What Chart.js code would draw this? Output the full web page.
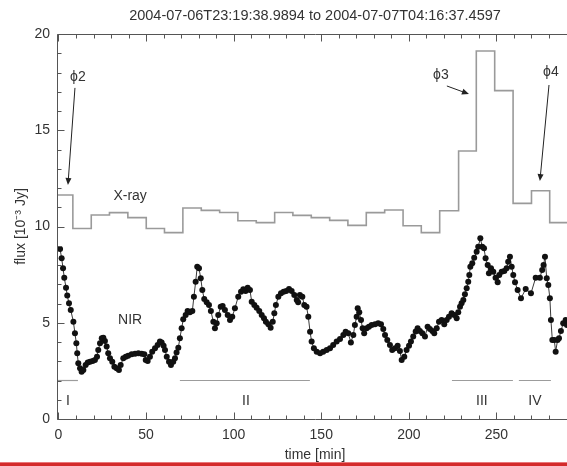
<!DOCTYPE html>
<html>
<head>
<meta charset="utf-8">
<script src="https://cdn.jsdelivr.net/npm/chart.js@4/dist/chart.umd.min.js"></script>
<style>
  html, body { margin: 0; padding: 0; background: #fff; overflow: hidden; }
  #wrap { position: relative; width: 567px; height: 466px; overflow: hidden; }
  #lc { display: block; }
  #bar { position: absolute; left: 0; top: 462px; width: 567px; height: 4px; background: #d42b2b; border-top: 1px solid #e8787a; box-sizing: border-box; }
</style>
</head>
<body>
<div id="wrap">
  <canvas id="lc" width="630" height="462"></canvas>
  <div id="bar"></div>
</div>
<script>
// NIR light curve (minutes from start, flux in mJy)
const nirTime = [
  0.9, 1.8, 2.6, 3.3, 4.3, 5.0, 6.0, 7.0, 8.5, 9.4, 10.2, 10.7, 11.3, 12.3, 13.2, 14.2,
  15.5, 16.7, 18.0, 19.5, 20.8, 22.0, 22.7, 23.7, 24.7, 25.6, 26.5, 27.5, 28.4, 29.4, 30.7,
  31.9, 33.2, 34.5, 35.5, 37.0, 38.4, 39.8, 41.8, 43.7, 45.6, 47.5, 49.0, 49.8, 50.9, 52.2,
  53.5, 55.1, 56.6, 57.9, 58.9, 60.0, 60.8, 61.8, 63.1, 64.2, 65.5, 66.5, 67.4, 68.4, 69.3,
  70.3, 71.2, 72.6, 73.7, 75.0, 76.4, 77.3, 78.3, 79.2, 80.2, 81.2, 82.1, 83.2, 84.6, 85.9,
  87.0, 88.4, 89.3, 90.3, 91.2, 92.6, 93.7, 95.0, 96.6, 97.9, 99.2, 100.7, 102.6, 104.2,
  105.5, 106.8, 108.0, 109.3, 110.3, 111.8, 113.1, 114.6, 116.0, 117.3, 118.4, 119.8, 121.1,
  122.3, 123.2, 124.1, 125.5, 127.0, 128.5, 130.0, 131.6, 133.1, 134.6, 136.0, 136.8, 137.8,
  139.2, 140.3, 141.6, 142.6, 143.6, 144.5, 145.8, 147.4, 149.3, 151.1, 153.1, 155.0, 156.8,
  158.8, 160.7, 162.6, 163.9, 165.4, 166.9, 168.3, 169.2, 170.2, 170.8, 171.7, 172.7, 173.6,
  174.5, 175.9, 177.2, 178.8, 180.7, 182.5, 184.1, 185.4, 186.4, 187.7, 189.2, 190.5, 192.1,
  193.6, 194.9, 195.9, 197.4, 198.7, 200.1, 201.2, 202.5, 203.9, 205.0, 206.3, 207.7, 209.2,
  210.7, 212.0, 213.4, 214.5, 215.9, 217.2, 218.7, 220.2, 221.6, 222.9, 224.4, 225.9, 227.3,
  228.2, 229.2, 230.1, 231.1, 232.0, 233.0, 233.9, 234.5, 235.1, 236.2, 237.3, 238.7, 239.6,
  240.8, 241.9, 242.9, 243.8, 245.0, 245.7, 246.9, 248.2, 249.5, 250.7, 251.6, 253.0, 254.5,
  255.8, 256.7, 257.7, 258.7, 259.6, 260.6, 262.1, 264.0, 266.7, 269.7, 272.4, 274.8, 276.1,
  276.9, 277.7, 278.7, 279.6, 280.5, 281.1, 281.9, 283.0, 283.8, 284.9, 285.7, 286.8, 288.1,
  289.5, 290.2
];
const nirFlux = [
  8.83, 8.35, 7.83, 7.34, 6.82, 6.41, 6.01, 5.66, 5.05, 4.45, 3.93, 3.41, 2.89, 2.63, 2.46, 2.55,
  2.81, 2.94, 2.98, 3.01, 3.06, 3.24, 3.58, 3.93, 4.19, 4.22, 4.05, 3.76, 3.41, 3.15, 2.98,
  2.72, 2.63, 2.55, 2.81, 3.15, 3.24, 3.29, 3.36, 3.39, 3.41, 3.39, 3.36, 3.06, 3.01, 3.24,
  3.50, 3.67, 3.84, 4.02, 3.98, 3.81, 3.58, 3.24, 2.98, 2.81, 2.98, 3.15, 3.45, 3.70, 4.20,
  4.71, 5.18, 5.40, 5.61, 5.54, 5.61, 6.35, 7.13, 7.91, 7.83, 7.31, 6.70, 6.23, 6.06, 5.92,
  5.61, 5.05, 4.71, 4.97, 5.40, 5.83, 5.87, 5.66, 5.40, 5.14, 5.31, 5.75, 6.35, 6.61,
  6.74, 6.65, 6.82, 6.70, 6.09, 5.92, 5.78, 5.61, 5.40, 5.23, 5.05, 4.92, 4.74,
  5.05, 5.49, 5.92, 6.35, 6.53, 6.61, 6.65, 6.75, 6.65, 6.44, 6.18, 6.06, 6.44,
  6.35, 5.92, 5.83, 5.31, 4.53, 4.02, 3.67, 3.50, 3.41, 3.50, 3.58, 3.67, 3.84,
  4.02, 4.16, 4.36, 4.53, 4.45, 3.98, 4.36, 4.88, 5.31, 5.75, 5.54, 5.14, 4.71,
  4.45, 4.71, 4.79, 4.88, 4.92, 4.97, 4.92, 4.68, 4.36, 4.10, 3.84, 3.58, 3.67,
  3.81, 3.53, 3.06, 3.24, 3.58, 3.81, 4.02, 4.28, 4.55, 4.71, 4.57, 4.45, 4.28,
  4.79, 4.68, 4.57, 4.45, 4.71, 5.05, 5.14, 4.92, 5.14, 5.31, 5.49, 5.40, 5.23,
  5.54, 5.83, 6.01, 6.18, 6.48, 6.79, 7.13, 7.48, 7.91, 8.09, 8.38, 8.69, 8.95,
  9.39, 8.95, 8.87, 8.35, 8.00, 7.57, 7.83, 7.65, 7.34, 7.10, 7.48, 7.65, 7.69,
  7.83, 8.17, 8.43, 7.91, 7.48, 7.10, 6.70, 6.27, 6.75, 6.53, 7.34, 7.34, 7.74,
  8.00, 8.43, 7.31, 6.96, 6.27, 5.14, 4.10, 4.10, 3.50, 4.10, 4.19, 4.57, 4.97,
  5.14, 4.88
];

// X-ray binned light curve: bin start times and scaled flux
const xrayStart = [
  -0.85, 8.2, 18.7, 29.1, 39.6, 50.1, 60.5, 71.0, 81.5, 92.0, 102.4, 112.9, 123.4, 133.8,
  144.3, 154.8, 165.2, 175.7, 186.2, 196.7, 207.1, 217.6, 228.4, 238.5, 249.0, 259.5,
  270.0, 280.4, 290.9
];
const xrayFlux = [
  11.64, 9.90, 10.60, 10.72, 10.46, 9.90, 9.68, 10.96, 10.84, 10.73, 10.30, 10.20, 10.73,
  10.58, 10.46, 10.32, 10.06, 10.72, 10.86, 10.04, 9.68, 10.82, 13.92, 19.12, 17.06, 11.20,
  11.86, 10.20, 10.35
];

// flare phases I-IV
const phaseNames = ['I', 'II', 'III', 'IV'];
const phaseFrom = [-0.85, 69.3, 224.6, 262.8];
const phaseTo = [11.1, 143.5, 259.4, 281.1];
const phaseLevel = 2;

const xTicks = [0, 50, 100, 150, 200, 250];
const yTicks = [0, 5, 10, 15, 20];
const xMin = -0.85, xMax = 293.7;

const FONT = 'Liberation Sans, Arial, Helvetica, sans-serif';
const INK = '#333';

const phaseSets = phaseNames.map((n, i) => ({
  label: n,
  data: [{ x: phaseFrom[i], y: phaseLevel }, { x: phaseTo[i], y: phaseLevel }],
  borderColor: '#9c9c9c',
  borderWidth: 1.2,
  pointRadius: 0
}));

// axis frame with inward ticks, text labels and arrows
const decor = {
  id: 'decor',
  afterDatasetsDraw(chart) {
    const { ctx, chartArea: a, scales: { x, y } } = chart;
    ctx.save();
    ctx.strokeStyle = '#555';
    ctx.lineWidth = 1;
    ctx.beginPath();
    const L = Math.round(a.left) + 0.5, T = Math.round(a.top) + 0.5;
    const B = Math.round(a.bottom) + 0.5, R = Math.round(a.right) + 0.5;
    ctx.moveTo(R, T); ctx.lineTo(L, T); ctx.lineTo(L, B); ctx.lineTo(R, B);
    for (let t = 0; t <= xMax; t += 10) {
      const px = Math.round(x.getPixelForValue(t)) + 0.5;
      const len = t % 50 === 0 ? 7 : 4;
      ctx.moveTo(px, B); ctx.lineTo(px, B - len);
      ctx.moveTo(px, T); ctx.lineTo(px, T + len);
    }
    for (let v = 0; v <= 20; v++) {
      const py = Math.round(y.getPixelForValue(v)) + 0.5;
      const len = v % 5 === 0 ? 7 : 4;
      ctx.moveTo(L, py); ctx.lineTo(L + len, py);
    }
    ctx.stroke();

    ctx.fillStyle = INK;
    ctx.font = '14px ' + FONT;
    ctx.textAlign = 'center';
    ctx.textBaseline = 'middle';
    const notes = [
      ['X-ray', 40.9, 11.58], ['NIR', 40.9, 5.14],
      ['ϕ2', 11.1, 17.77], ['ϕ3', 218.3, 17.87], ['ϕ4', 281.1, 18.03]
    ];
    notes.forEach(([s, tx, ty]) => ctx.fillText(s, x.getPixelForValue(tx), y.getPixelForValue(ty)));
    phaseNames.forEach((n, i) => {
      const mid = [5.4, 107, 241.7, 272][i];
      ctx.fillText(n, x.getPixelForValue(mid), y.getPixelForValue(0.91));
    });

    const arrows = [
      [9.4, 17.2, 5.4, 12.16],
      [221.7, 17.3, 234.3, 16.88],
      [280.0, 17.35, 274.8, 12.36]
    ];
    ctx.strokeStyle = '#222';
    ctx.fillStyle = '#222';
    arrows.forEach(([t0, v0, t1, v1]) => {
      const x0 = x.getPixelForValue(t0), y0 = y.getPixelForValue(v0);
      const x1 = x.getPixelForValue(t1), y1 = y.getPixelForValue(v1);
      const ang = Math.atan2(y1 - y0, x1 - x0);
      ctx.beginPath();
      ctx.moveTo(x0, y0);
      ctx.lineTo(x1 - 5 * Math.cos(ang), y1 - 5 * Math.sin(ang));
      ctx.stroke();
      ctx.beginPath();
      ctx.moveTo(x1, y1);
      ctx.lineTo(x1 - 7 * Math.cos(ang) + 3 * Math.sin(ang), y1 - 7 * Math.sin(ang) - 3 * Math.cos(ang));
      ctx.lineTo(x1 - 7 * Math.cos(ang) - 3 * Math.sin(ang), y1 - 7 * Math.sin(ang) + 3 * Math.cos(ang));
      ctx.closePath();
      ctx.fill();
    });
    ctx.restore();
  }
};

const xrayData = xrayStart.map((t, i) => ({ x: t, y: xrayFlux[i] }));
xrayData.push({ x: xMax, y: xrayFlux[xrayFlux.length - 1] });

new Chart(document.getElementById('lc'), {
  type: 'line',
  data: {
    datasets: [
      {
        label: 'X-ray',
        data: xrayData,
        stepped: true,
        borderColor: '#9a9a9a',
        borderWidth: 1.6,
        pointRadius: 0
      },
      {
        label: 'NIR',
        data: nirTime.map((t, i) => ({ x: t, y: nirFlux[i] })),
        borderColor: '#3a3a3a',
        borderWidth: 1,
        pointRadius: 3,
        pointBackgroundColor: '#111',
        pointBorderWidth: 0,
        tension: 0
      },
      ...phaseSets
    ]
  },
  options: {
    responsive: false,
    animation: false,
    devicePixelRatio: 1,
    layout: { padding: { left: 0, right: 57, top: 0, bottom: 0 } },
    plugins: {
      legend: { display: false },
      tooltip: { enabled: false },
      title: {
        display: true,
        fullSize: false,
        text: '2004-07-06T23:19:38.9894 to 2004-07-07T04:16:37.4597',
        color: INK,
        font: { family: FONT, size: 14.5, weight: 'normal', lineHeight: 1.2 },
        padding: { top: 7, bottom: 9.6 }
      }
    },
    scales: {
      x: {
        type: 'linear',
        min: xMin,
        max: xMax,
        grid: { display: false, drawTicks: false },
        border: { display: false },
        afterBuildTicks: s => { s.ticks = xTicks.map(v => ({ value: v })); },
        afterFit: s => { s.height = 43; },
        ticks: { padding: 8, color: INK, font: { family: FONT, size: 14 } },
        title: {
          display: true, text: 'time [min]', color: INK,
          font: { family: FONT, size: 14, lineHeight: 1 },
          padding: { top: 0, bottom: 0 }
        }
      },
      y: {
        min: 0,
        max: 20,
        grid: { display: false, drawTicks: false },
        border: { display: false },
        afterBuildTicks: s => { s.ticks = yTicks.map(v => ({ value: v })); },
        afterFit: s => { s.width = 57; },
        ticks: { padding: 7, color: INK, font: { family: FONT, size: 14 } },
        title: {
          display: true, text: 'flux [10⁻³ Jy]', color: INK,
          font: { family: FONT, size: 14, lineHeight: 1 },
          padding: { top: 14.5, bottom: 0 }
        }
      }
    }
  },
  plugins: [decor]
});
</script>
</body>
</html>
